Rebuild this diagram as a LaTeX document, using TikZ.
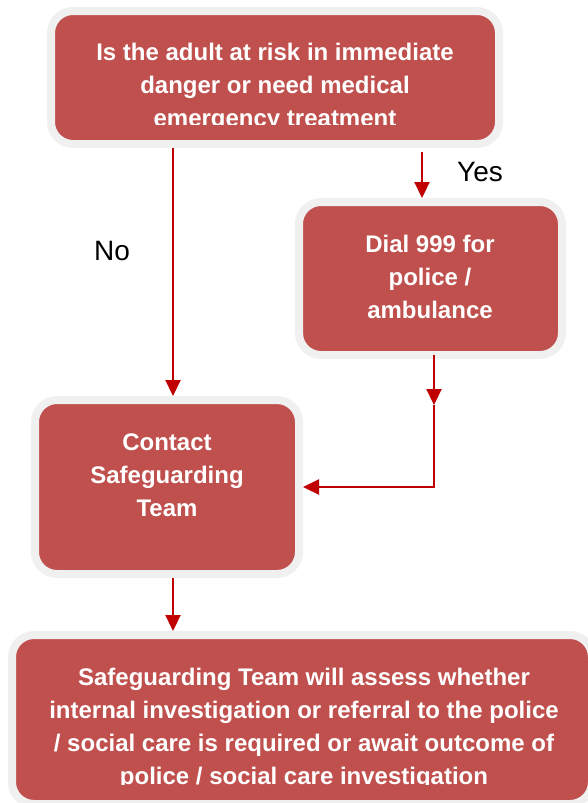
\documentclass[tikz,border=0pt]{standalone}
\usepackage{fontspec}
\setmainfont{Liberation Sans}
\usetikzlibrary{arrows.meta}
\definecolor{boxred}{HTML}{C0504D}
\definecolor{boxrim}{HTML}{F0F0F0}
\definecolor{flowred}{HTML}{C00000}

\begin{document}
\begin{tikzpicture}[x=1pt,y=-1pt,
    stepbox/.style={rectangle,rounded corners=22pt,fill=boxred,draw=boxrim,line width=8pt},
    boxtext/.style={text=white,font=\fontsize{24}{33}\selectfont\bfseries,align=center,inner sep=0pt},
    answer/.style={font=\fontsize{28}{34}\selectfont,inner sep=0pt},
    flow/.style={draw=flowred,line width=2.2pt,-{Triangle[width=15pt,length=16pt]}}]
\useasboundingbox (0,0) rectangle (588,803);
% Question
\node[stepbox,minimum width=448pt,minimum height=133pt] (qbox) at (275,77.5) {};
\begin{scope}
  \clip (55,15) rectangle (495,124);
  \node[boxtext] (qtext) at (275,87) {Is the adult at risk in immediate\\danger or need medical\\emergency treatment};
\end{scope}
% Yes branch
\node[stepbox,minimum width=263pt,minimum height=153pt] (dial) at (430.5,278.5) {};
\node[boxtext] (dialtext) at (430,277) {Dial 999 for\\police /\\ambulance};
\node[answer] (yes) at (480,172.5) {Yes};
% No branch
\node[stepbox,minimum width=264pt,minimum height=174pt] (contact) at (167,487) {};
\node[boxtext] (contacttext) at (167,475) {Contact\\Safeguarding\\Team};
\node[answer] (no) at (112,251) {No};
% Outcome
\node[stepbox,minimum width=580pt,minimum height=169pt] (outcome) at (302,719.5) {};
\begin{scope}
  \clip (16,639) rectangle (588,784);
  \node[boxtext] (outcometext) at (304,729) {Safeguarding Team will assess whether\\internal investigation or referral to the police\\/ social care is required or await outcome of\\police / social care investigation};
\end{scope}
% links
\coordinate (nox) at (173,0);
\coordinate (yestop) at (422,152);
\coordinate (bend) at (434,405);
\draw[flow] (qbox.south -| nox) -- (contact.north -| nox);
\draw[flow] (yestop) -- (dial.north -| yestop);
\draw[flow] ([yshift=4pt]dial.south -| bend) -- (bend);
\draw[flow] (bend) |- (contact.east);
\draw[flow] (contact.south -| nox) -- (outcome.north -| nox);
\end{tikzpicture}
\end{document}
